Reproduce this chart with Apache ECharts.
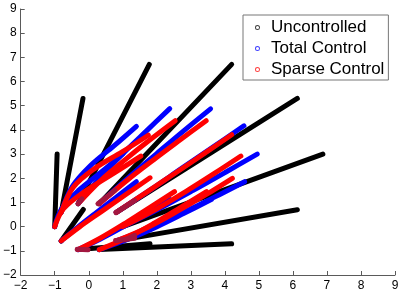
<!DOCTYPE html>
<html><head><meta charset="utf-8">
<script src="https://cdn.jsdelivr.net/npm/echarts@6/dist/echarts.min.js"></script>
<style>html,body{margin:0;padding:0;background:#fff}#c{width:407px;height:293px}</style>
</head><body><div id="c"></div>
<script>
// initial positions (one per trajectory)
const startPoints = [[-1,0],[-0.81,0.59],[-0.31,0.95],[0.31,0.95],[0.81,0.59],[1,0],[0.81,-0.59],[0.31,-0.95],[-0.31,-0.95],[-0.81,-0.59]];
// uncontrolled: straight lines to these end points
const uncontrolledEnds = [[-0.93,3.0],[-0.17,5.3],[1.78,6.71],[4.2,6.71],[6.13,5.3],[6.88,3.0],[6.13,0.7],[4.2,-0.71],[1.8,-0.71],[-0.16,0.71]];
// total control: points (after the start point)
const totalControlPaths = [
  [[-0.79,0.75],[-0.29,1.51],[0.37,2.26],[1.01,3.02]],
  [[-0.49,1.65],[0.06,2.54],[0.74,3.34],[1.4,4.15]],
  [[0.33,2.02],[1.0,3.01],[1.69,3.95],[2.38,4.88]],
  [[1.16,2.02],[1.98,3.0],[2.78,3.95],[3.58,4.87]],
  [[1.83,1.54],[2.76,2.44],[3.67,3.31],[4.56,4.17]],
  [[2.08,0.75],[3.07,1.5],[4.02,2.25],[4.95,3.0]],
  [[1.83,-0.04],[2.77,0.58],[3.68,1.21],[4.58,1.86]],
  [[1.16,-0.52],[1.99,-0.01],[2.80,0.55],[3.6,1.12]],
  [[0.33,-0.52],[1.01,-0.01],[1.69,0.55],[2.38,1.12]],
  [[-0.34,-0.04],[0.22,0.58],[0.80,1.21],[1.4,1.86]]
];
// sparse control
const sparseControlPaths = [
  [[-0.74,0.74],[-0.10,1.47],[0.73,2.2],[1.53,2.92]],
  [[-0.46,1.62],[0.18,2.41],[0.98,3.09],[1.75,3.78]],
  [[0.36,1.92],[1.08,2.78],[1.80,3.59],[2.54,4.38]],
  [[1.13,1.92],[1.92,2.78],[2.69,3.59],[3.45,4.38]],
  [[1.75,1.47],[2.60,2.27],[3.41,3.04],[4.2,3.8]],
  [[1.99,0.73],[2.86,1.46],[3.68,2.19],[4.47,2.92]],
  [[1.76,-0.01],[2.61,0.64],[3.43,1.31],[4.22,2.0]],
  [[1.13,-0.46],[1.92,0.14],[2.69,0.79],[3.46,1.45]],
  [[0.36,-0.46],[1.07,0.14],[1.79,0.79],[2.52,1.45]],
  [[-0.26,0.0],[0.40,0.65],[1.09,1.33],[1.8,2.02]]
];
// short stretches where the sparse-control markers overlap the other traces (dark red)
const overlapSegments = [
  [[-0.31,0.95],[-0.2,1.15]],
  [[0.27,0.95],[0.77,1.5]],
  [[0.8,0.58],[1.35,1.08]],
  [[0.79,-0.57],[1.35,-0.48]],
  [[-0.34,-0.94],[-0.02,-0.96]],
  [[1.06,-0.55],[1.35,-0.36]]
];
const overlapDots = [[-1,0],[-0.81,-0.59],[-0.31,-0.95],[0.31,-0.95]];
const seriesNames = ['Uncontrolled','Total Control','Sparse Control'];
const seriesColors = ['#000000','#0000ff','#ff0000'];
const xTicks = [-2,-1,0,1,2,3,4,5,6,7,8,9];
const yTicks = [-2,-1,0,1,2,3,4,5,6,7,8,9];

const LW = 5;
function lineSeries(name, color, pts, smooth){
  return {type:'line', name:name, data:pts, showSymbol:false, symbol:'emptyCircle', symbolSize:5,
    smooth:smooth, animation:false, silent:true,
    lineStyle:{color:color, width:LW, cap:'round', join:'round'}, itemStyle:{color:color}};
}
const series = [];
startPoints.forEach((s,i)=>series.push(lineSeries(seriesNames[0], seriesColors[0], [s, uncontrolledEnds[i]], false)));
startPoints.forEach((s,i)=>series.push(lineSeries(seriesNames[1], seriesColors[1], [s].concat(totalControlPaths[i]), 0.35)));
startPoints.forEach((s,i)=>series.push(lineSeries(seriesNames[2], seriesColors[2], [s].concat(sparseControlPaths[i]), 0.35)));
overlapSegments.forEach(seg=>series.push(lineSeries('overlap', '#a3173f', seg, false)));
series.push({type:'scatter', name:'overlapDots', data:overlapDots, symbol:'circle', symbolSize:5, silent:true, animation:false, itemStyle:{color:'#8e1a55'}});

const ringIcon = 'path://M5,0A5,5,0,1,1,4.99,0ZM5,1.9A3.1,3.1,0,1,0,5.01,1.9Z';
const fmt = v => String(v).replace('-', '\u2212');
const axisCommon = {
  type:'value', interval:1,
  axisLine:{show:true, onZero:false, lineStyle:{color:'#5a5a5a', width:1}},
  axisTick:{show:true, inside:true, length:4, lineStyle:{color:'#5a5a5a'}},
  splitLine:{show:false},
  axisLabel:{color:'#000', fontSize:12, fontFamily:'Liberation Sans, Arial, sans-serif', formatter:fmt}
};
const chart = echarts.init(document.getElementById('c'), null, {renderer:'canvas'});
chart.setOption({
  animation:false,
  backgroundColor:'#fff',
  grid:{left:20.7, right:12, top:9, bottom:18, containLabel:false},
  xAxis:Object.assign({}, axisCommon, {min:xTicks[0], max:xTicks[xTicks.length-1], axisLabel:Object.assign({}, axisCommon.axisLabel, {margin:5})}),
  yAxis:Object.assign({}, axisCommon, {min:yTicks[0], max:yTicks[yTicks.length-1], axisLabel:Object.assign({}, axisCommon.axisLabel, {margin:4})}),
  legend:{
    data:seriesNames.map((n,i)=>({name:n, icon:ringIcon, itemStyle:{color:seriesColors[i], borderWidth:0, opacity:0.75}})),
    orient:'vertical', left:243, top:15,
    itemWidth:5, itemHeight:5, itemGap:4,
    padding:[4,4,2,12],
    backgroundColor:'#fff', borderColor:'#777', borderWidth:1,
    textStyle:{fontSize:17, fontFamily:'Liberation Sans, Arial, sans-serif', color:'#000', lineHeight:17, padding:[0,0,0,6]},
    selectedMode:false
  },
  series:series
});
</script></body></html>
